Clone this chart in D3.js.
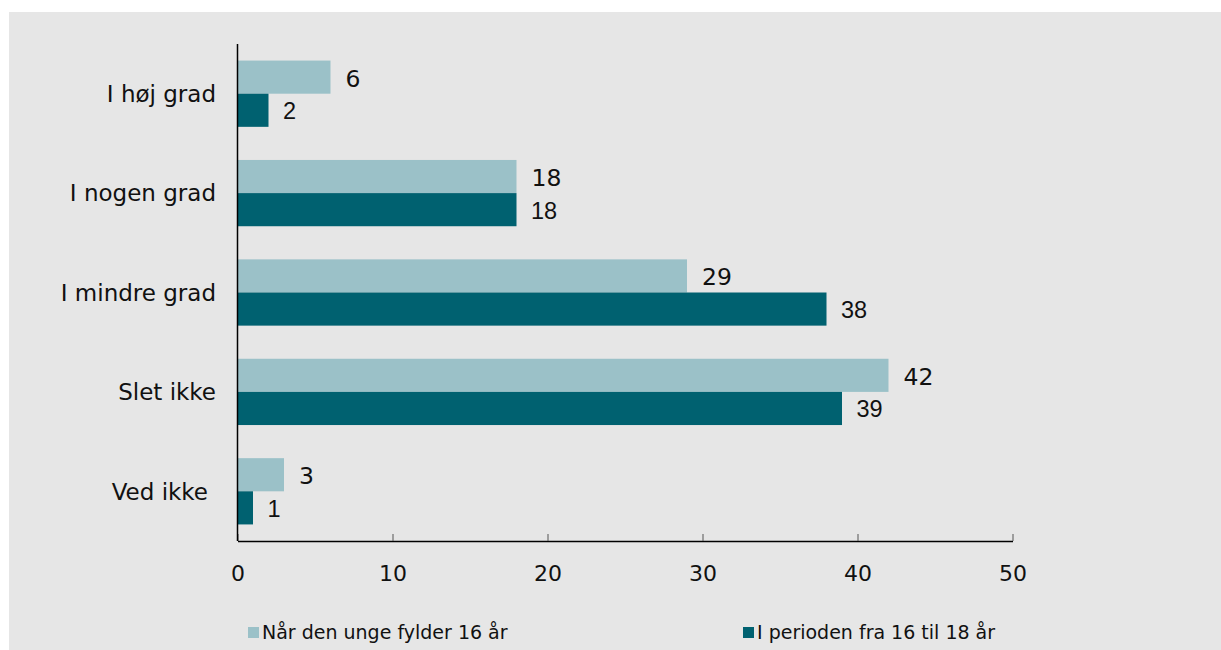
<!DOCTYPE html>
<html><head><meta charset="utf-8">
<script src="https://cdn.jsdelivr.net/npm/d3@7/dist/d3.min.js"></script>
<style>body{margin:0;background:#fff;}svg{display:block;font-family:"DejaVu Sans",Verdana,sans-serif;}</style>
</head><body>
<svg id="c" width="1221" height="650"></svg>
<script>
const categories = ["I høj grad", "I nogen grad", "I mindre grad", "Slet ikke", "Ved ikke"];
const seriesNames = ["Når den unge fylder 16 år", "I perioden fra 16 til 18 år"];
const series16 = [6, 18, 29, 42, 3];
const series1618 = [2, 18, 38, 39, 1];
const xTicks = [0, 10, 20, 30, 40, 50];
const colors = ["#9bc1c8", "#006170"];

const svg = d3.select("#c");
svg.append("rect").attr("x", 9).attr("y", 12).attr("width", 1212).attr("height", 638).attr("fill", "#e6e6e6");

const x = d3.scaleLinear().domain([0, 50]).range([237.5, 1012.5]);
const y = d3.scaleBand().domain(categories).range([44, 541]).paddingInner(1/3).paddingOuter(1/6);
const sub = d3.scaleBand().domain([0, 1]).range([0, y.bandwidth()]);

const data = categories.map((c, i) => ({c, v: [series16[i], series1618[i]]}));
const g = svg.append("g");
data.forEach(d => {
  d.v.forEach((v, j) => {
    g.append("rect").attr("x", x(0)).attr("y", y(d.c) + sub(j))
      .attr("width", x(v) - x(0)).attr("height", sub.bandwidth()).attr("fill", colors[j]);
    g.append("text").attr("x", x(v) + (j === 0 ? 15 : 14.5))
      .attr("y", y(d.c) + sub(j) + sub.bandwidth()/2 + (j === 0 ? 1 : 0.5))
      .attr("dy", "0.36em").attr("font-size", j === 0 ? 23.5 : 23.5)
      .style("font-family", j === 0 ? "'DejaVu Sans', Verdana, sans-serif" : "'Liberation Sans', Arial, sans-serif")
      .attr("fill", "#111").text(v);
  });
});

// x axis
const xa = svg.append("g").attr("transform", "translate(0,541)")
  .call(d3.axisBottom(x).tickValues(xTicks).tickSize(-7).tickSizeOuter(0).tickPadding(24));
xa.select(".domain").attr("stroke", "#000").attr("stroke-width", 1.5);
xa.selectAll(".tick line").attr("stroke", "#555");
xa.selectAll("text").attr("font-size", 22).attr("fill", "#111").attr("font-family", "DejaVu Sans, Verdana, sans-serif");

// y axis line
svg.append("line").attr("x1", x(0)).attr("x2", x(0)).attr("y1", 44).attr("y2", 541).attr("stroke", "#000").attr("stroke-width", 1.5);

// category labels
svg.selectAll(".cat").data(categories).enter().append("text")
  .attr("x", (d, i) => i === 4 ? 208 : 216)
  .attr("y", d => y(d) + y.bandwidth()/2).attr("dy", "0.36em")
  .attr("text-anchor", "end").attr("font-size", 23).attr("fill", "#111").text(d => d);

// legend
const legX = [248, 743];
seriesNames.forEach((n, i) => {
  svg.append("rect").attr("x", legX[i]).attr("y", 627).attr("width", 11).attr("height", 11).attr("fill", colors[i]);
  svg.append("text").attr("x", legX[i] + 14).attr("y", 639).attr("font-size", 19).attr("fill", "#111").text(n);
});
</script>
</body></html>
